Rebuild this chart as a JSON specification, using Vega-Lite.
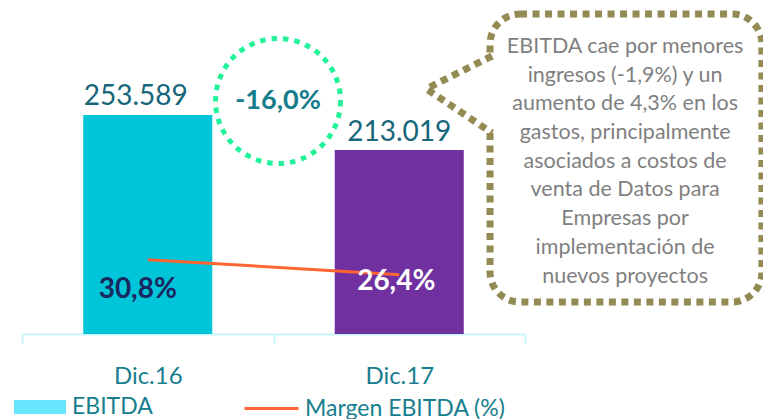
{
  "$schema": "https://vega.github.io/schema/vega-lite/v6.json",
  "width": 503,
  "height": 324,
  "autosize": {"type": "none"},
  "padding": {"left": 22, "top": 10, "right": 238, "bottom": 85},
  "background": "white",
  "config": {
    "view": {"stroke": null},
    "font": "Lato",
    "locale": {"number": {"decimal": ",", "thousands": ".", "grouping": [3], "currency": ["$", ""], "minus": "-"}}
  },
  "datasets": {
    "main": [
      {"periodo": "Dic.16", "ebitda": 253589, "margen": 0.308, "serie": "EBITDA", "serie2": "Margen EBITDA (%)"},
      {"periodo": "Dic.17", "ebitda": 213019, "margen": 0.264, "serie": "EBITDA", "serie2": "Margen EBITDA (%)"}
    ],
    "variacion": [{"pos": 1.018, "y": 269676, "var": -0.16}],
    "caja": [{"x": 1.861, "x2": 2.942, "y": 370370, "y2": 37037}],
    "tapa": [{"x": 1.835, "x2": 1.888, "y": 318000, "y2": 236000}],
    "cola": [
      {"x": 1.869, "y": 321759, "x2": 1.614, "y2": 284722},
      {"x": 1.614, "y": 282407, "x2": 1.869, "y2": 232639}
    ],
    "nota": [{"pos": 2.398, "y": 332176, "texto": "EBITDA cae por menores\ningresos (-1,9%)  y un\naumento de 4,3% en los\ngastos, principalmente\nasociados a costos de\nventa de Datos para\nEmpresas por\nimplementación de\nnuevos proyectos"}]
  },
  "resolve": {"scale": {"x": "independent", "y": "independent", "fill": "independent", "stroke": "independent"}},
  "layer": [
    {
      "data": {"name": "main"},
      "mark": {"type": "bar"},
      "encoding": {
        "x": {"field": "periodo", "type": "nominal", "sort": null,
          "scale": {"type": "band", "domain": ["Dic.16", "Dic.17"], "paddingInner": 0.487, "paddingOuter": 0.2435},
          "axis": null},
        "y": {"field": "ebitda", "type": "quantitative", "scale": {"domain": [0, 375000], "nice": false, "zero": false}, "axis": null},
        "fill": {"field": "serie", "type": "nominal",
          "scale": {"domain": ["EBITDA"], "range": ["#66E6FF"]},
          "condition": [
            {"test": "datum.periodo === 'Dic.16'", "value": "#00C4D8"},
            {"test": "datum.periodo === 'Dic.17'", "value": "#7030A0"}
          ],
          "legend": {"title": null, "orient": "none", "legendX": -8, "legendY": 371, "padding": 0,
            "symbolType": "M-1,-0.27H1V0.27H-1Z", "symbolSize": 2704, "symbolStrokeWidth": 0,
            "labelFontSize": 23, "labelColor": "#177E8E", "labelOffset": 6, "labelFont": "Lato", "labelLimit": 400}}
      }
    },
    {
      "data": {"name": "main"},
      "transform": [{"filter": "datum.periodo === 'Dic.16'"}],
      "mark": {"type": "text", "fontSize": 28, "color": "#17667A", "baseline": "alphabetic", "dy": -10, "dx": -12},
      "encoding": {
        "x": {"field": "periodo", "type": "nominal", "sort": null, "scale": {"type": "band", "domain": ["Dic.16", "Dic.17"], "paddingInner": 0.487, "paddingOuter": 0.2435}, "axis": null},
        "y": {"field": "ebitda", "type": "quantitative", "scale": {"domain": [0, 375000], "nice": false, "zero": false}, "axis": null},
        "text": {"field": "ebitda", "type": "quantitative", "format": ",.0f"}
      }
    },
    {
      "data": {"name": "main"},
      "transform": [{"filter": "datum.periodo === 'Dic.17'"}],
      "mark": {"type": "text", "fontSize": 28, "color": "#17667A", "baseline": "alphabetic", "dy": -9},
      "encoding": {
        "x": {"field": "periodo", "type": "nominal", "sort": null, "scale": {"type": "band", "domain": ["Dic.16", "Dic.17"], "paddingInner": 0.487, "paddingOuter": 0.2435}, "axis": null},
        "y": {"field": "ebitda", "type": "quantitative", "scale": {"domain": [0, 375000], "nice": false, "zero": false}, "axis": null},
        "text": {"field": "ebitda", "type": "quantitative", "format": ",.0f"}
      }
    },
    {
      "data": {"name": "main"},
      "mark": {"type": "line", "strokeWidth": 3},
      "encoding": {
        "x": {"field": "periodo", "type": "nominal", "sort": null,
          "scale": {"type": "band", "domain": ["Dic.16", "Dic.17"], "paddingInner": 0, "paddingOuter": 0},
          "axis": {"title": null, "labelAngle": 0, "labelFontSize": 24, "labelColor": "#177E8E", "labelFont": "Lato",
            "domainColor": "#C8F4FB", "domainWidth": 2, "tickColor": "#C8F4FB", "tickWidth": 2, "tickSize": 9,
            "tickBand": "extent", "labelPadding": 21, "grid": false}},
        "y": {"field": "margen", "type": "quantitative", "scale": {"domain": [0.09, 1.04], "nice": false, "zero": false}, "axis": null},
        "stroke": {"field": "serie2", "type": "nominal", "scale": {"range": ["#FF6633"]},
          "legend": {"title": null, "orient": "none", "legendX": 221, "legendY": 370, "padding": 0,
            "symbolType": "stroke", "symbolSize": 2916, "symbolStrokeWidth": 3,
            "labelFontSize": 23, "labelColor": "#177E8E", "labelOffset": 5, "labelFont": "Lato", "labelLimit": 400}}
      }
    },
    {
      "data": {"name": "main"},
      "transform": [{"filter": "datum.periodo === 'Dic.16'"}],
      "mark": {"type": "text", "fontSize": 28, "fontWeight": "bold", "color": "#1A2760", "baseline": "middle", "dy": 30, "dx": -10},
      "encoding": {
        "x": {"field": "periodo", "type": "nominal", "sort": null, "scale": {"type": "band", "domain": ["Dic.16", "Dic.17"], "paddingInner": 0.487, "paddingOuter": 0.2435}, "axis": null},
        "y": {"field": "margen", "type": "quantitative", "scale": {"domain": [0.09, 1.04], "nice": false, "zero": false}, "axis": null},
        "text": {"field": "margen", "type": "quantitative", "format": ".1%"}
      }
    },
    {
      "data": {"name": "main"},
      "transform": [{"filter": "datum.periodo === 'Dic.17'"}],
      "mark": {"type": "text", "fontSize": 28, "fontWeight": "bold", "color": "#FFFFFF", "baseline": "middle", "dy": 7, "dx": -3},
      "encoding": {
        "x": {"field": "periodo", "type": "nominal", "sort": null, "scale": {"type": "band", "domain": ["Dic.16", "Dic.17"], "paddingInner": 0.487, "paddingOuter": 0.2435}, "axis": null},
        "y": {"field": "margen", "type": "quantitative", "scale": {"domain": [0.09, 1.04], "nice": false, "zero": false}, "axis": null},
        "text": {"field": "margen", "type": "quantitative", "format": ".1%"}
      }
    },
    {
      "data": {"name": "variacion"},
      "mark": {"type": "point", "shape": "circle", "size": 15625, "filled": false, "color": "#22F29A", "strokeWidth": 5, "strokeDash": [5.5, 6], "opacity": 1},
      "encoding": {
        "x": {"field": "pos", "type": "quantitative", "scale": {"domain": [0, 2], "nice": false, "zero": false}, "axis": null},
        "y": {"field": "y", "type": "quantitative", "scale": {"domain": [0, 375000], "nice": false, "zero": false}, "axis": null}
      }
    },
    {
      "data": {"name": "variacion"},
      "mark": {"type": "text", "fontSize": 27, "fontWeight": "bold", "color": "#147D8C", "baseline": "middle"},
      "encoding": {
        "x": {"field": "pos", "type": "quantitative", "scale": {"domain": [0, 2], "nice": false, "zero": false}, "axis": null},
        "y": {"field": "y", "type": "quantitative", "scale": {"domain": [0, 375000], "nice": false, "zero": false}, "axis": null},
        "text": {"field": "var", "type": "quantitative", "format": ".1%"}
      }
    },
    {
      "data": {"name": "caja"},
      "mark": {"type": "rect", "fillOpacity": 0, "stroke": "#948A54", "strokeWidth": 7, "strokeDash": [7, 5.5], "cornerRadius": 30},
      "encoding": {
        "x": {"field": "x", "type": "quantitative", "scale": {"domain": [0, 2], "nice": false, "zero": false}, "axis": null},
        "x2": {"field": "x2"},
        "y": {"field": "y", "type": "quantitative", "scale": {"domain": [0, 375000], "nice": false, "zero": false}, "axis": null},
        "y2": {"field": "y2"}
      }
    },
    {
      "data": {"name": "tapa"},
      "mark": {"type": "rect", "fill": "white", "strokeWidth": 0},
      "encoding": {
        "x": {"field": "x", "type": "quantitative", "scale": {"domain": [0, 2], "nice": false, "zero": false}, "axis": null},
        "x2": {"field": "x2"},
        "y": {"field": "y", "type": "quantitative", "scale": {"domain": [0, 375000], "nice": false, "zero": false}, "axis": null},
        "y2": {"field": "y2"}
      }
    },
    {
      "data": {"name": "cola"},
      "mark": {"type": "rule", "color": "#948A54", "strokeWidth": 7, "strokeDash": [7, 5.5]},
      "encoding": {
        "x": {"field": "x", "type": "quantitative", "scale": {"domain": [0, 2], "nice": false, "zero": false}, "axis": null},
        "x2": {"field": "x2"},
        "y": {"field": "y", "type": "quantitative", "scale": {"domain": [0, 375000], "nice": false, "zero": false}, "axis": null},
        "y2": {"field": "y2"}
      }
    },
    {
      "data": {"name": "nota"},
      "mark": {"type": "text", "fontSize": 21.5, "color": "#7F7F7F", "align": "center", "baseline": "middle", "lineBreak": "\n", "lineHeight": 28.7},
      "encoding": {
        "x": {"field": "pos", "type": "quantitative", "scale": {"domain": [0, 2], "nice": false, "zero": false}, "axis": null},
        "y": {"field": "y", "type": "quantitative", "scale": {"domain": [0, 375000], "nice": false, "zero": false}, "axis": null},
        "text": {"field": "texto", "type": "nominal"}
      }
    }
  ]
}
